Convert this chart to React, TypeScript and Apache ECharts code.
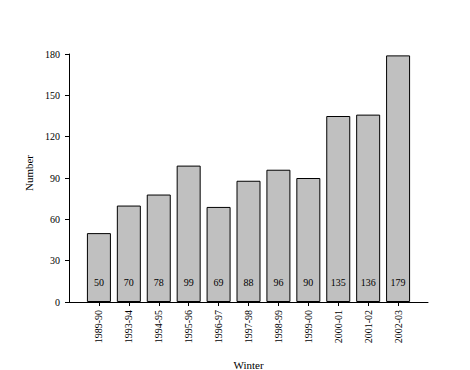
import React, { useEffect, useRef } from "react";
import * as echarts from "echarts";

const categories = ["1989-90", "1993-94", "1994-95", "1995-96", "1996-97", "1997-98", "1998-99", "1999-00", "2000-01", "2001-02", "2002-03"];
const values = [50, 70, 78, 99, 69, 88, 96, 90, 135, 136, 179];
const yTicks = [0, 30, 60, 90, 120, 150, 180];

const FONT = "'Liberation Serif', 'Times New Roman', serif";

export default function App() {
  const ref = useRef<HTMLDivElement>(null);
  useEffect(() => {
    if (!ref.current) return;
    const chart = echarts.init(ref.current, undefined, { renderer: "svg" });
    const cats = ["", ...categories, ""];
    const data = [null, ...values, null];
    chart.setOption({
      animation: false,
      backgroundColor: "#ffffff",
      textStyle: { fontFamily: FONT, color: "#000" },
      grid: { left: 69, top: 54, right: 42, bottom: 68, containLabel: false, outerBoundsMode: "none" },
      xAxis: {
        type: "category",
        data: cats,
        boundaryGap: false,
        name: "Winter",
        nameLocation: "middle",
        nameGap: 57,
        nameMoveOverlap: false,
        nameTextStyle: { fontFamily: FONT, fontSize: 11, color: "#000" },
        axisLine: { lineStyle: { color: "#000", width: 1 } },
        axisTick: { show: true, length: 4, interval: (i: number) => i > 0 && i < cats.length - 1, lineStyle: { color: "#000" } },
        axisLabel: { rotate: 90, margin: 8, fontFamily: FONT, fontSize: 10, color: "#000", interval: 0 },
        splitLine: { show: false },
      },
      yAxis: {
        type: "value",
        min: yTicks[0],
        max: yTicks[yTicks.length - 1],
        interval: 30,
        name: "Number",
        nameLocation: "middle",
        nameGap: 35,
        nameMoveOverlap: false,
        nameTextStyle: { fontFamily: FONT, fontSize: 11, color: "#000", padding: [0, 0, 0, 10] },
        axisLine: { show: true, lineStyle: { color: "#000", width: 1 } },
        axisTick: { show: true, length: 4, lineStyle: { color: "#000" } },
        axisLabel: { margin: 9, fontFamily: FONT, fontSize: 10, color: "#000" },
        splitLine: { show: false },
      },
      series: [
        {
          type: "bar",
          data,
          barWidth: 24,
          itemStyle: { color: "#c0c0c0", borderColor: "#000", borderWidth: 1 },
          label: {
            show: true,
            position: "insideBottom",
            distance: 15,
            fontFamily: FONT,
            fontSize: 10,
            color: "#000",
          },
        },
      ],
    });
    return () => chart.dispose();
  }, []);
  return <div ref={ref} style={{ width: 470, height: 370, position: "absolute", left: 0, top: 0 }} />;
}
